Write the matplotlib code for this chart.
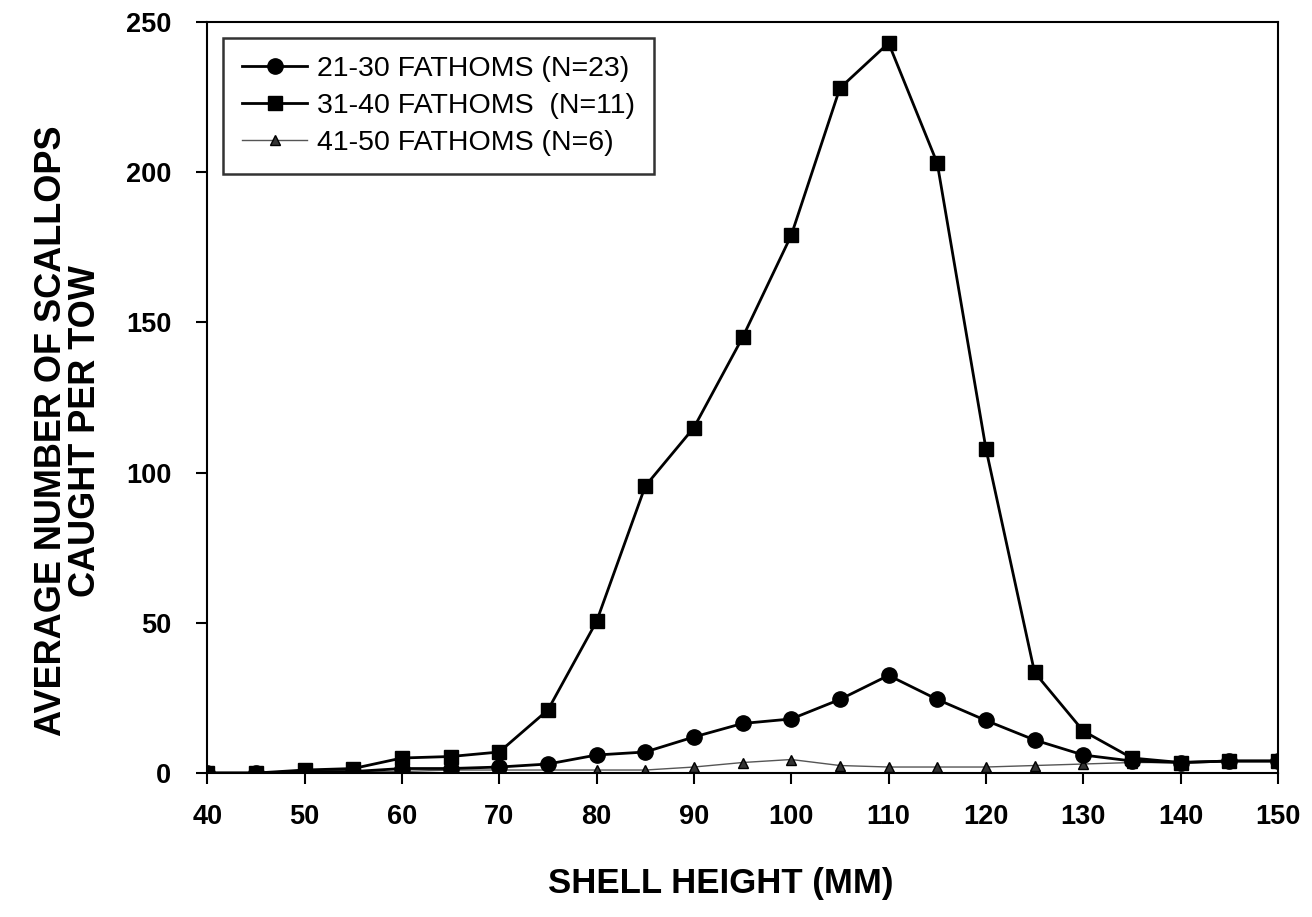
import numpy as np
import matplotlib.pyplot as plt

# Shell height classes (mm) and average catch per tow
shell_height = [40, 45, 50, 55, 60, 65, 70, 75, 80, 85, 90, 95, 100,
                105, 110, 115, 120, 125, 130, 135, 140, 145, 150]

fath_21_30 = [0, 0, 0.5, 0.5, 1.5, 1.5, 2, 3, 6, 7, 12, 16.5, 18,
              24.5, 32.5, 24.5, 17.5, 11, 6, 4, 3.5, 4, 4]
fath_31_40 = [0, 0, 1, 1.5, 5, 5.5, 7, 21, 50.5, 95.5, 115, 145, 179,
              228, 243, 203, 108, 33.5, 14, 5, 3.5, 4, 4]
fath_41_50 = [0, 0, 0.5, 0.5, 0.5, 1, 1, 1, 1, 1, 2, 3.5, 4.5,
              2.5, 2, 2, 2, 2.5, 3, 3.5, 3.5, 4, 4]

labels = ['21-30 FATHOMS (N=23)', '31-40 FATHOMS  (N=11)', '41-50 FATHOMS (N=6)']

plt.rcParams['font.family'] = ['Liberation Sans', 'DejaVu Sans']

fig = plt.figure(figsize=(13.12, 9.17), dpi=100)
ax = fig.add_axes([0.158, 0.157, 0.816, 0.819])

ax.plot(shell_height, fath_21_30, color='black', lw=2, marker='o', ms=11,
        label=labels[0], zorder=3)
ax.plot(shell_height, fath_31_40, color='black', lw=2, marker='s', ms=9.5,
        label=labels[1], zorder=4)
ax.plot(shell_height, fath_41_50, color='#555555', lw=1, marker='^', ms=7.5,
        mfc='#333333', mec='black', label=labels[2], zorder=2)

ax.set_xlim(40, 150)
ax.set_ylim(0, 250)
ax.set_xticks(np.arange(40, 151, 10))
ax.set_yticks(np.arange(0, 251, 50))
ax.tick_params(direction='out', length=8, width=1.5, labelsize=19.5)
ax.tick_params(axis='x', pad=14)
ax.tick_params(axis='y', pad=18)
for lab in ax.get_xticklabels() + ax.get_yticklabels():
    lab.set_fontweight('bold')
for sp in ax.spines.values():
    sp.set_linewidth(1.5)

# axis titles placed as in the original scan
fig.text(0.5495, 0.036, 'SHELL HEIGHT (MM)', fontsize=25, fontweight='bold',
         ha='center', va='center')
fig.text(0.052, 0.53, 'AVERAGE NUMBER OF SCALLOPS\nCAUGHT PER TOW',
         fontsize=26, fontweight='bold', rotation=90, ha='center',
         va='center', multialignment='center', linespacing=0.95)

leg = ax.legend(loc='upper left', bbox_to_anchor=(0.015, 0.979),
                borderaxespad=0, fontsize=20.5, frameon=True, fancybox=False,
                edgecolor='black', handlelength=2.3, handletextpad=0.35,
                borderpad=0.65, labelspacing=0.38)
leg.get_frame().set_linewidth(1.8)

fig.savefig('out.png', dpi=100)
